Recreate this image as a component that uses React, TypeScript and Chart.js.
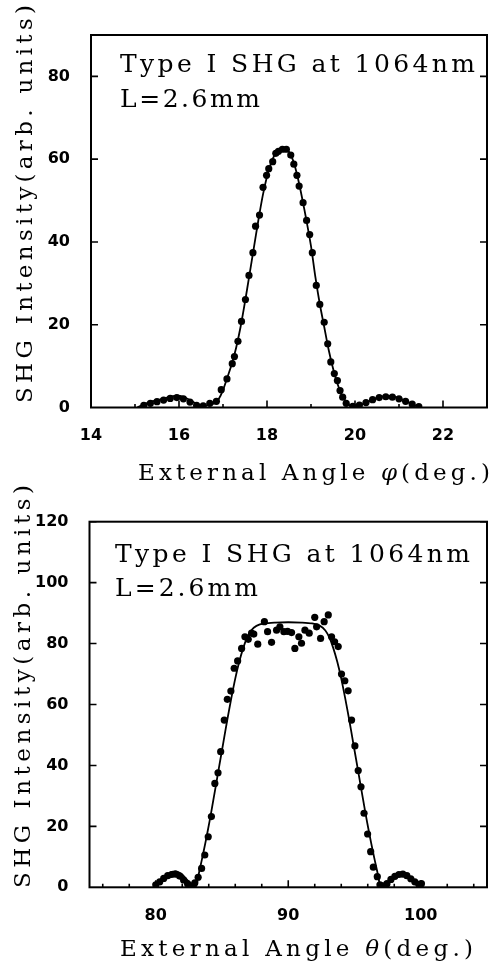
import React, { useEffect, useRef } from "react";
import { Chart, registerables } from "chart.js";

Chart.register(...registerables);

// ---------- Top panel: phi scan ----------
const phiLineX = [15.05, 15.3, 15.6, 15.9, 16.1, 16.3, 16.5, 16.65, 16.8, 16.9, 17.0, 17.1, 17.2, 17.3, 17.4, 17.5, 17.6, 17.7, 17.8, 17.9, 18.0, 18.1, 18.2, 18.3, 18.4, 18.5, 18.6, 18.7, 18.8, 18.9, 19.0, 19.1, 19.2, 19.3, 19.4, 19.5, 19.6, 19.7, 19.8, 19.9, 20.0, 20.2, 20.4, 20.6, 20.8, 21.0, 21.2, 21.4, 21.5];
const phiLineY = [0, 1.2, 2.0, 2.8, 2.6, 1.5, 0.3, 0.6, 1.0, 2.0, 4.2, 7.3, 10.5, 14.5, 19.5, 25.5, 32, 38.5, 45, 51, 55.8, 59.3, 61.5, 62.6, 62.8, 61.8, 59.5, 55.5, 50.5, 45, 39, 31.5, 25, 19.5, 14, 9.5, 5.8, 3.0, 1.3, 0.4, 0.2, 0.9, 1.9, 2.6, 2.8, 2.3, 1.3, 0.3, 0];
const phiDotX = [15.2, 15.35, 15.5, 15.65, 15.8, 15.95, 16.1, 16.25, 16.4, 16.55, 16.7, 16.85, 16.96, 17.09, 17.21, 17.26, 17.34, 17.42, 17.51, 17.59, 17.68, 17.74, 17.83, 17.91, 17.99, 18.04, 18.13, 18.2, 18.26, 18.35, 18.44, 18.54, 18.61, 18.68, 18.73, 18.82, 18.9, 18.97, 19.03, 19.12, 19.2, 19.3, 19.38, 19.45, 19.53, 19.6, 19.66, 19.72, 19.8, 19.95, 20.1, 20.25, 20.4, 20.55, 20.7, 20.85, 21.0, 21.15, 21.3, 21.45];
const phiDotY = [0.5, 1.0, 1.4, 1.8, 2.2, 2.4, 2.1, 1.3, 0.5, 0.4, 1.0, 1.5, 4.3, 6.9, 10.6, 12.3, 16.0, 20.8, 26.1, 31.9, 37.4, 43.8, 46.5, 53.2, 56.1, 57.7, 59.4, 61.4, 61.9, 62.4, 62.4, 61.0, 58.8, 56.1, 53.5, 49.5, 45.2, 41.8, 37.4, 29.5, 24.9, 20.6, 15.4, 11.0, 8.2, 6.5, 4.1, 2.5, 1.0, 0.3, 0.6, 1.2, 1.9, 2.4, 2.6, 2.5, 2.1, 1.5, 0.8, 0.2];
const phiXTicks = [14, 16, 18, 20, 22];
const phiXMinor = [15, 17, 19, 21];
const phiYTicks = [0, 20, 40, 60, 80];

// ---------- Bottom panel: theta scan ----------
const thetaLineX = [79.9, 80.3, 80.7, 81.1, 81.5, 81.9, 82.3, 82.7, 83.0, 83.3, 83.6, 83.9, 84.2, 84.5, 84.8, 85.1, 85.4, 85.7, 86.0, 86.3, 86.6, 86.9, 87.2, 87.6, 88.2, 89.0, 90.0, 91.0, 91.8, 92.4, 92.8, 93.1, 93.4, 93.7, 94.0, 94.3, 94.6, 94.9, 95.2, 95.5, 95.8, 96.1, 96.4, 96.7, 97.0, 97.3, 97.7, 98.1, 98.5, 98.9, 99.3, 99.7, 100.1];
const thetaLineY = [0, 1.8, 3.6, 4.8, 5.2, 4.5, 2.8, 0.8, 0, 5.5, 11.5, 18, 25, 32.5, 40, 47.5, 55, 62, 68.5, 74, 78.5, 82, 84.3, 85.8, 86.6, 86.9, 87.0, 86.9, 86.6, 85.8, 84.3, 82, 78.5, 74, 68.5, 62, 55, 47.5, 40, 32.5, 25, 18, 11.5, 5.5, 0, 0.6, 2.5, 4.2, 4.9, 4.4, 3.0, 1.3, 0];
const thetaDotX = [80.0, 80.3, 80.6, 80.9, 81.2, 81.5, 81.8, 82.1, 82.4, 82.7, 82.95, 83.2, 83.46, 83.7, 83.96, 84.2, 84.46, 84.7, 84.9, 85.17, 85.4, 85.67, 85.92, 86.18, 86.48, 86.73, 86.98, 87.23, 87.4, 87.7, 88.2, 88.44, 88.74, 89.12, 89.37, 89.67, 89.95, 90.25, 90.5, 90.8, 91.0, 91.26, 91.58, 92.0, 92.14, 92.44, 92.71, 93.02, 93.27, 93.5, 93.77, 94.02, 94.27, 94.52, 94.78, 95.03, 95.28, 95.49, 95.72, 95.99, 96.22, 96.42, 96.72, 96.92, 97.15, 97.45, 97.75, 98.05, 98.35, 98.65, 98.95, 99.25, 99.55, 99.85, 100.05];
const thetaDotY = [0.8, 1.8, 2.9, 3.8, 4.2, 4.3, 3.7, 2.4, 1.2, 0.5, 1.5, 3.3, 6.2, 10.6, 16.6, 23.2, 34.1, 37.6, 44.5, 54.9, 61.7, 64.4, 71.9, 74.3, 78.4, 82.2, 81.4, 83.4, 83.1, 79.8, 87.2, 83.9, 80.4, 84.4, 85.5, 83.9, 84.0, 83.6, 78.4, 82.2, 80.1, 84.4, 83.4, 88.6, 85.5, 81.7, 87.2, 89.4, 82.2, 80.6, 79.0, 70.0, 67.8, 64.5, 54.9, 46.4, 38.3, 33.0, 24.3, 17.5, 11.7, 6.6, 3.5, 0.8, 0.5, 1.2, 2.6, 3.6, 4.2, 4.3, 3.8, 2.8, 1.8, 1.0, 1.2];
const thetaXTicks = [80, 90, 100];
const thetaXMinor = [76, 78, 82, 84, 86, 88, 92, 94, 96, 98, 102, 104];
const thetaYTicks = [0, 20, 40, 60, 80, 100, 120];

// ---------- Texts ----------
const annotLine1 = "Type I SHG at 1064nm";
const annotLine2 = "L=2.6mm";
const yTitleText = "SHG Intensity(arb. units)";
const phiXTitle = [
  { t: "External Angle ", it: false },
  { t: "φ", it: true },
  { t: "(deg.)", it: false },
];
const thetaXTitle = [
  { t: "External Angle ", it: false },
  { t: "θ", it: true },
  { t: "(deg.)", it: false },
];

const SERIF = '"DejaVu Serif", serif';

type Seg = { t: string; it: boolean };

function drawSpaced(ctx: CanvasRenderingContext2D, segs: Seg[], x: number, y: number, target: number, size: number) {
  const fontOf = (it: boolean) => `${it ? "italic " : ""}${size}px ${SERIF}`;
  (ctx as any).letterSpacing = "0px";
  let natural = 0;
  let n = 0;
  const widths: number[] = [];
  segs.forEach((s) => {
    ctx.font = fontOf(s.it);
    const w = ctx.measureText(s.t).width;
    widths.push(w);
    natural += w;
    n += [...s.t].length;
  });
  const ls = (target - natural) / Math.max(1, n - 1);
  let cx = x;
  segs.forEach((s, i) => {
    ctx.font = fontOf(s.it);
    (ctx as any).letterSpacing = ls + "px";
    ctx.fillText(s.t, cx, y);
    cx += widths[i] + [...s.t].length * ls;
  });
  (ctx as any).letterSpacing = "0px";
}

type Panel = {
  lineX: number[]; lineY: number[]; dotX: number[]; dotY: number[];
  xMin: number; xMax: number; yMax: number;
  xTicks: number[]; xMinor: number[]; yTicks: number[];
  xTitle: Seg[];
  height: number;
  bottomEdge: number;
  area: { left: number; right: number; top: number; bottom: number };
  annot: { x: number; y1: number; y2: number; w1: number; w2: number; size: number };
  xt: { x: number; y: number; w: number; size: number };
  yt: { x: number; y: number; w: number; size: number };
  xPad: number;
};

const panels: Panel[] = [
  {
    lineX: phiLineX, lineY: phiLineY, dotX: phiDotX, dotY: phiDotY,
    xMin: 14, xMax: 23, yMax: 90,
    xTicks: phiXTicks, xMinor: phiXMinor, yTicks: phiYTicks,
    xTitle: phiXTitle,
    height: 492,
    bottomEdge: 480,
    area: { left: 91, right: 487, top: 35, bottom: 407.5 },
    annot: { x: 120, y1: 72, y2: 107, w1: 355, w2: 140, size: 25 },
    xt: { x: 138, y: 480, w: 352, size: 23 },
    yt: { x: 32, y: 403, w: 398, size: 23 },
    xPad: 11,
  },
  {
    lineX: thetaLineX, lineY: thetaLineY, dotX: thetaDotX, dotY: thetaDotY,
    xMin: 75, xMax: 105, yMax: 120,
    xTicks: thetaXTicks, xMinor: thetaXMinor, yTicks: thetaYTicks,
    xTitle: thetaXTitle,
    height: 485,
    bottomEdge: 485,
    area: { left: 89.5, right: 487, top: 41.7, bottom: 407.3 },
    annot: { x: 115, y1: 81.7, y2: 116, w1: 355, w2: 143, size: 25 },
    xt: { x: 120, y: 476, w: 353, size: 23 },
    yt: { x: 30, y: 408, w: 403, size: 23 },
    xPad: 10.5,
  },
];

function PanelChart({ p, top }: { p: Panel; top: number }) {
  const ref = useRef<HTMLCanvasElement | null>(null);
  useEffect(() => {
    if (!ref.current) return;
    const decor = {
      id: "decor",
      afterDraw(chart: any) {
        const ctx: CanvasRenderingContext2D = chart.ctx;
        const a = chart.chartArea;
        const xs = chart.scales.x;
        const ys = chart.scales.y;
        ctx.save();
        ctx.strokeStyle = "#000";
        ctx.lineWidth = 2;
        ctx.strokeRect(a.left, a.top, a.right - a.left, a.bottom - a.top);
        ctx.lineWidth = 1.6;
        ctx.beginPath();
        p.yTicks.forEach((v) => {
          if (v === 0) return;
          const py = ys.getPixelForValue(v);
          ctx.moveTo(a.left, py); ctx.lineTo(a.left + 7, py);
          ctx.moveTo(a.right, py); ctx.lineTo(a.right - 7, py);
        });
        p.xTicks.forEach((v) => {
          const px = xs.getPixelForValue(v);
          ctx.moveTo(px, a.bottom); ctx.lineTo(px, a.bottom - 7);
        });
        p.xMinor.forEach((v) => {
          const px = xs.getPixelForValue(v);
          ctx.moveTo(px, a.bottom); ctx.lineTo(px, a.bottom - 3.5);
        });
        ctx.stroke();
        // texts
        ctx.fillStyle = "#000";
        ctx.textBaseline = "alphabetic";
        ctx.textAlign = "left";
        drawSpaced(ctx, [{ t: annotLine1, it: false }], p.annot.x, p.annot.y1, p.annot.w1, p.annot.size);
        drawSpaced(ctx, [{ t: annotLine2, it: false }], p.annot.x, p.annot.y2, p.annot.w2, p.annot.size);
        drawSpaced(ctx, p.xTitle, p.xt.x, p.xt.y, p.xt.w, p.xt.size);
        ctx.save();
        ctx.translate(p.yt.x, p.yt.y);
        ctx.rotate(-Math.PI / 2);
        drawSpaced(ctx, [{ t: yTitleText, it: false }], 0, 0, p.yt.w, p.yt.size);
        ctx.restore();
        ctx.restore();
      },
    };
    const W = 493;
    const chart = new Chart(ref.current, {
      type: "scatter",
      data: {
        datasets: [
          {
            data: p.dotX.map((x, i) => ({ x, y: p.dotY[i] })),
            pointRadius: 3.6,
            pointBackgroundColor: "#000",
            pointBorderWidth: 0,
            showLine: false,
          },
          {
            data: p.lineX.map((x, i) => ({ x, y: p.lineY[i] })),
            showLine: true,
            pointRadius: 0,
            borderColor: "#000",
            borderWidth: 1.8,
            tension: 0.3,
          } as any,
        ],
      },
      options: {
        animation: false,
        responsive: false,
        layout: { padding: { top: p.area.top, right: W - p.area.right, left: 0, bottom: p.height - p.bottomEdge } },
        plugins: { legend: { display: false }, tooltip: { enabled: false } },
        scales: {
          x: {
            type: "linear",
            min: p.xMin,
            max: p.xMax,
            grid: { display: false },
            border: { display: false },
            afterBuildTicks: (s: any) => { s.ticks = p.xTicks.map((v) => ({ value: v })); },
            afterFit: (s: any) => { s.height = p.bottomEdge - p.area.bottom; },
            ticks: {
              color: "#000",
              padding: p.xPad,
              maxRotation: 0,
              font: { family: '"DejaVu Sans", sans-serif', size: 16, weight: "bold" },
            },
          },
          y: {
            type: "linear",
            min: 0,
            max: p.yMax,
            grid: { display: false },
            border: { display: false },
            afterBuildTicks: (s: any) => { s.ticks = p.yTicks.map((v) => ({ value: v })); },
            afterFit: (s: any) => { s.width = p.area.left; },
            ticks: {
              color: "#000",
              padding: 13,
              font: { family: '"DejaVu Sans", sans-serif', size: 16, weight: "bold" },
            },
          },
        },
      } as any,
      plugins: [decor],
    });
    return () => chart.destroy();
  }, [p]);
  return (
    <canvas
      ref={ref}
      width={493}
      height={p.height}
      style={{ position: "absolute", left: 0, top, width: 493, height: p.height }}
    />
  );
}

export default function App() {
  return (
    <div style={{ position: "absolute", left: 0, top: 0, width: 493, height: 965, background: "#fff" }}>
      <PanelChart p={panels[1]} top={480} />
      <PanelChart p={panels[0]} top={0} />
    </div>
  );
}
